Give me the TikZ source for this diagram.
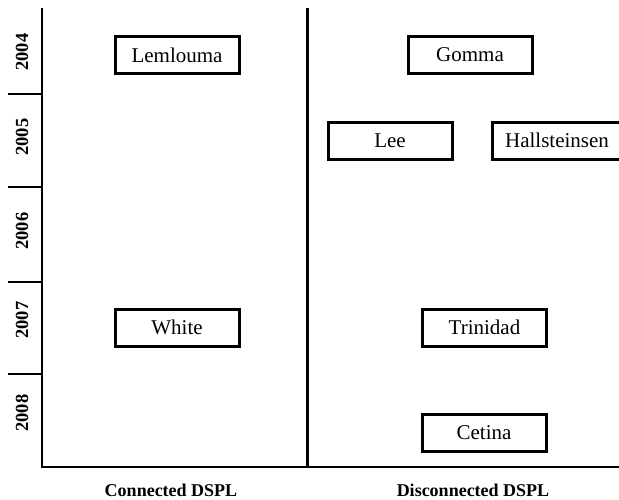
\documentclass[tikz,border=0pt]{standalone}
\usepackage{fontspec}
\setmainfont{Liberation Serif}
\begin{document}
\begin{tikzpicture}[x=1pt,y=-1pt,
  author/.style={draw=black, line width=3pt, fill=white, minimum width=124pt,
    minimum height=37pt, inner sep=0pt, font=\fontsize{21}{21}\selectfont},
  year/.style={rotate=90, font=\fontsize{18.5}{18.5}\selectfont\bfseries},
  group/.style={font=\fontsize{18}{18}\selectfont\bfseries},
  axis/.style={line width=2.5pt}]
\useasboundingbox (0,0) rectangle (619,499);

% frame: time axis, column divider and base line
\coordinate (top) at (42,8);
\coordinate (origin) at (42,467);
\coordinate (midtop) at (307.5,8);
\coordinate (midbot) at (307.5,467);
\coordinate (right) at (621,467);
\draw[axis] (top) -- (origin);
\draw[axis] (midtop) -- (midbot);
\draw[axis] (40.75,467) -- (right);
\foreach \y in {94,187,282,374}
  \draw[axis] (8,\y) -- (42,\y);

% years
\node[year] (y2004) at (22,52) {2004};
\node[year] (y2005) at (22,137) {2005};
\node[year] (y2006) at (22,231) {2006};
\node[year] (y2007) at (22,320) {2007};
\node[year] (y2008) at (22,413) {2008};

% column titles
\node[group] (conn) at (171,490) {Connected DSPL};
\node[group] (disc) at (473,490) {Disconnected DSPL};

% authors
\node[author] (lemlouma) at (177,55) {Lemlouma};
\node[author] (gomma) at (470,55) {Gomma};
\node[author] (lee) at (390,140.5) {Lee};
\node[author, minimum width=130pt] (hall) at (557,140.5) {Hallsteinsen};
\node[author] (white) at (177,327.5) {White};
\node[author] (trinidad) at (484.5,327.5) {Trinidad};
\node[author] (cetina) at (484,433) {Cetina};
\end{tikzpicture}
\end{document}
